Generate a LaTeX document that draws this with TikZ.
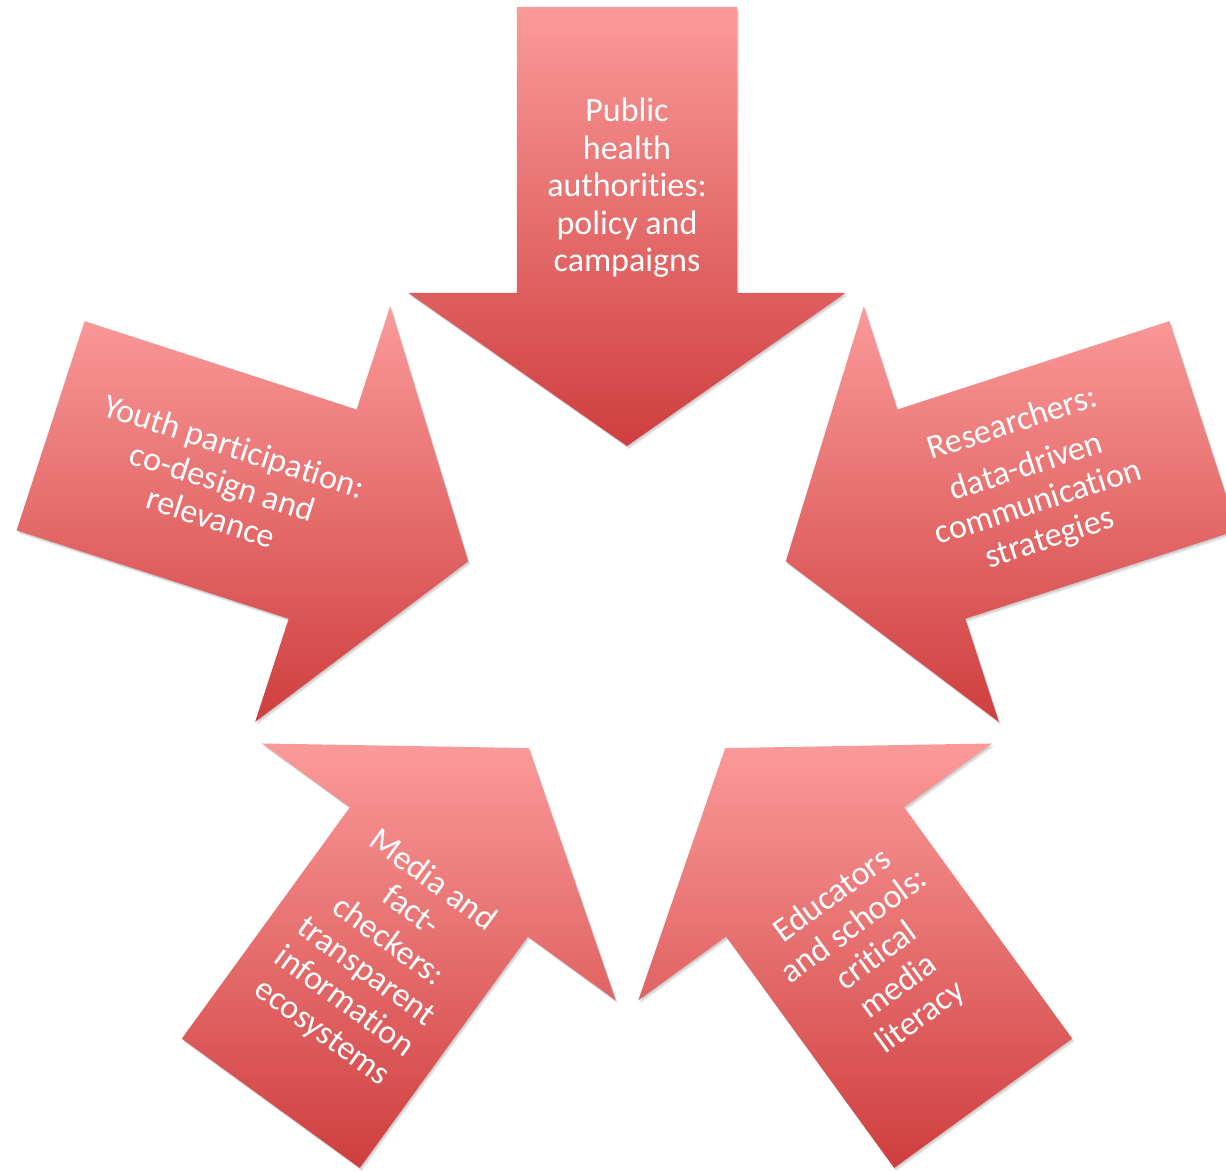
\documentclass[tikz,border=0pt]{standalone}
\usepackage{fontspec}
\setmainfont[Ligatures={NoCommon}]{Carlito}
\definecolor{arTop}{RGB}{251,154,154}
\definecolor{arMid}{RGB}{236,126,126}
\definecolor{arBot}{RGB}{207,62,62}
\tikzset{
  arrowfill/.style={top color=arTop, middle color=arMid, bottom color=arBot, draw=none},
  arrowshadow/.style={fill=black, opacity=0.10, draw=none},
  lbl/.style={text=white, align=center, inner sep=0pt, font=\fontsize{34}{37.5}\selectfont},
}
\newcommand{\arrowpath}{(-110,606) -- (110,606) -- (110,320) -- (218.5,320) -- (0,167) -- (-218.5,320) -- (-110,320) -- cycle}
\begin{document}
\begin{tikzpicture}[x=1pt,y=1pt]
\useasboundingbox (-627,-557) rectangle (599,613);
\clip (-627,-557) rectangle (599,613);
\foreach \a in {0,-72,72,-144,144}{
  \fill[arrowshadow, xshift=2pt, yshift=-3pt, rotate=\a] \arrowpath;
  \fill[arrowshadow, xshift=1pt, yshift=-1.5pt, rotate=\a] \arrowpath;
  \path[arrowfill, rotate=\a] \arrowpath;
}
\node[lbl] (pub) at (0,425) {Public\\health\\authorities:\\policy and\\campaigns};
\node[lbl, rotate=18] (res) at (18:425) {Researchers:\\[8pt]data-driven\\communication\\strategies};
\node[lbl, rotate=-18] (you) at (162:425) {Youth participation:\\co-design and\\relevance};
\node[lbl, rotate=36] (edu) at (-54:425) {Educators\\and schools:\\critical\\media\\literacy};
\node[lbl, rotate=-36] (med) at (234:425) {Media and\\fact-\\checkers:\\transparent\\information\\ecosystems};
\end{tikzpicture}
\end{document}
